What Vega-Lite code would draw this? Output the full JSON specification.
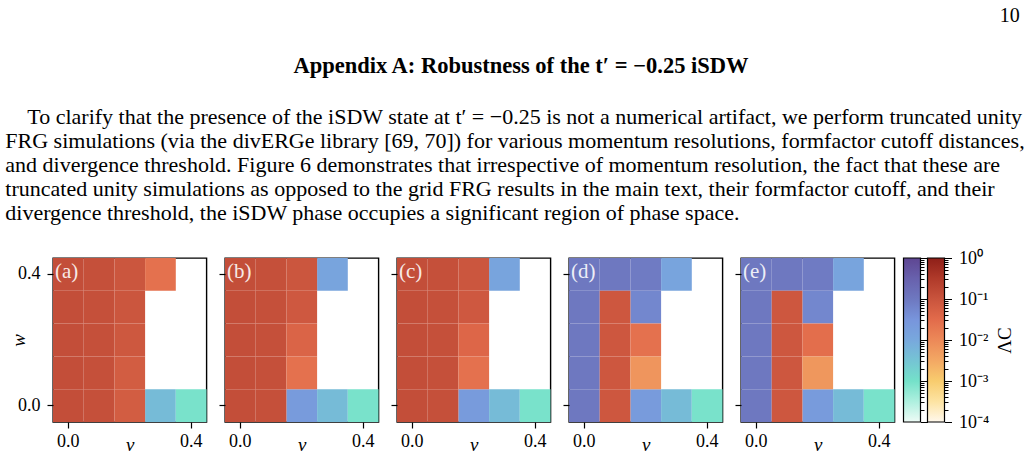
{
  "$schema": "https://vega.github.io/schema/vega-lite/v6.json",
  "background": "white",
  "padding": {"left": 5, "top": 5, "right": 0, "bottom": 0},
  "config": {
    "font": "Liberation Serif",
    "view": {"stroke": "black", "strokeWidth": 1.4},
    "axis": {
      "domain": false, "grid": false,
      "tickColor": "black", "tickWidth": 1.2, "tickSize": 6,
      "labelColor": "black", "labelFont": "Liberation Serif", "labelFontSize": 18, "labelPadding": 7,
      "titleFont": "Liberation Serif", "titleFontSize": 19, "titleFontWeight": "normal", "titleFontStyle": "italic", "titleColor": "black"
    },
    "axisX": {"labelPadding": 4},
    "title": {"font": "Liberation Serif", "color": "black", "fontWeight": "normal", "fontSize": 20},
    "style": {"group-title": {"font": "Liberation Serif", "fontWeight": "normal", "color": "black"}}
  },
  "title": {"text": "10", "anchor": "end", "offset": 29, "dx": -5, "font": "Liberation Serif", "fontSize": 20},
  "datasets": {
    "cells": [
      {"panel": "(a)", "v": 0, "w": 0.4, "phase": "r", "lam": 0.13},
      {"panel": "(a)", "v": 0, "w": 0.3, "phase": "r", "lam": 0.13},
      {"panel": "(a)", "v": 0, "w": 0.2, "phase": "r", "lam": 0.13},
      {"panel": "(a)", "v": 0, "w": 0.1, "phase": "r", "lam": 0.13},
      {"panel": "(a)", "v": 0, "w": 0, "phase": "r", "lam": 0.13},
      {"panel": "(a)", "v": 0.1, "w": 0.4, "phase": "r", "lam": 0.12},
      {"panel": "(a)", "v": 0.1, "w": 0.3, "phase": "r", "lam": 0.12},
      {"panel": "(a)", "v": 0.1, "w": 0.2, "phase": "r", "lam": 0.12},
      {"panel": "(a)", "v": 0.1, "w": 0.1, "phase": "r", "lam": 0.12},
      {"panel": "(a)", "v": 0.1, "w": 0, "phase": "r", "lam": 0.12},
      {"panel": "(a)", "v": 0.2, "w": 0.4, "phase": "r", "lam": 0.09},
      {"panel": "(a)", "v": 0.2, "w": 0.3, "phase": "r", "lam": 0.09},
      {"panel": "(a)", "v": 0.2, "w": 0.2, "phase": "r", "lam": 0.083},
      {"panel": "(a)", "v": 0.2, "w": 0.1, "phase": "r", "lam": 0.065},
      {"panel": "(a)", "v": 0.2, "w": 0, "phase": "r", "lam": 0.065},
      {"panel": "(a)", "v": 0.3, "w": 0.4, "phase": "r", "lam": 0.025},
      {"panel": "(a)", "v": 0.3, "w": 0, "phase": "b", "lam": 0.0045},
      {"panel": "(a)", "v": 0.4, "w": 0, "phase": "b", "lam": 0.0009},

      {"panel": "(b)", "v": 0, "w": 0.4, "phase": "r", "lam": 0.13},
      {"panel": "(b)", "v": 0, "w": 0.3, "phase": "r", "lam": 0.13},
      {"panel": "(b)", "v": 0, "w": 0.2, "phase": "r", "lam": 0.13},
      {"panel": "(b)", "v": 0, "w": 0.1, "phase": "r", "lam": 0.13},
      {"panel": "(b)", "v": 0, "w": 0, "phase": "r", "lam": 0.13},
      {"panel": "(b)", "v": 0.1, "w": 0.4, "phase": "r", "lam": 0.12},
      {"panel": "(b)", "v": 0.1, "w": 0.3, "phase": "r", "lam": 0.12},
      {"panel": "(b)", "v": 0.1, "w": 0.2, "phase": "r", "lam": 0.12},
      {"panel": "(b)", "v": 0.1, "w": 0.1, "phase": "r", "lam": 0.12},
      {"panel": "(b)", "v": 0.1, "w": 0, "phase": "r", "lam": 0.12},
      {"panel": "(b)", "v": 0.2, "w": 0.4, "phase": "r", "lam": 0.09},
      {"panel": "(b)", "v": 0.2, "w": 0.3, "phase": "r", "lam": 0.08},
      {"panel": "(b)", "v": 0.2, "w": 0.2, "phase": "r", "lam": 0.045},
      {"panel": "(b)", "v": 0.2, "w": 0.1, "phase": "r", "lam": 0.025},
      {"panel": "(b)", "v": 0.2, "w": 0, "phase": "b", "lam": 0.022},
      {"panel": "(b)", "v": 0.3, "w": 0.4, "phase": "b", "lam": 0.0125},
      {"panel": "(b)", "v": 0.3, "w": 0, "phase": "b", "lam": 0.0045},
      {"panel": "(b)", "v": 0.4, "w": 0, "phase": "b", "lam": 0.0009},

      {"panel": "(c)", "v": 0, "w": 0.4, "phase": "r", "lam": 0.13},
      {"panel": "(c)", "v": 0, "w": 0.3, "phase": "r", "lam": 0.13},
      {"panel": "(c)", "v": 0, "w": 0.2, "phase": "r", "lam": 0.13},
      {"panel": "(c)", "v": 0, "w": 0.1, "phase": "r", "lam": 0.13},
      {"panel": "(c)", "v": 0, "w": 0, "phase": "r", "lam": 0.13},
      {"panel": "(c)", "v": 0.1, "w": 0.4, "phase": "r", "lam": 0.12},
      {"panel": "(c)", "v": 0.1, "w": 0.3, "phase": "r", "lam": 0.12},
      {"panel": "(c)", "v": 0.1, "w": 0.2, "phase": "r", "lam": 0.12},
      {"panel": "(c)", "v": 0.1, "w": 0.1, "phase": "r", "lam": 0.12},
      {"panel": "(c)", "v": 0.1, "w": 0, "phase": "r", "lam": 0.12},
      {"panel": "(c)", "v": 0.2, "w": 0.4, "phase": "r", "lam": 0.09},
      {"panel": "(c)", "v": 0.2, "w": 0.3, "phase": "r", "lam": 0.08},
      {"panel": "(c)", "v": 0.2, "w": 0.2, "phase": "r", "lam": 0.04},
      {"panel": "(c)", "v": 0.2, "w": 0.1, "phase": "r", "lam": 0.025},
      {"panel": "(c)", "v": 0.2, "w": 0, "phase": "b", "lam": 0.022},
      {"panel": "(c)", "v": 0.3, "w": 0.4, "phase": "b", "lam": 0.013},
      {"panel": "(c)", "v": 0.3, "w": 0, "phase": "b", "lam": 0.0045},
      {"panel": "(c)", "v": 0.4, "w": 0, "phase": "b", "lam": 0.0009},

      {"panel": "(d)", "v": 0, "w": 0.4, "phase": "b", "lam": 0.1},
      {"panel": "(d)", "v": 0, "w": 0.3, "phase": "b", "lam": 0.1},
      {"panel": "(d)", "v": 0, "w": 0.2, "phase": "b", "lam": 0.1},
      {"panel": "(d)", "v": 0, "w": 0.1, "phase": "b", "lam": 0.1},
      {"panel": "(d)", "v": 0, "w": 0, "phase": "b", "lam": 0.1},
      {"panel": "(d)", "v": 0.1, "w": 0.4, "phase": "b", "lam": 0.1},
      {"panel": "(d)", "v": 0.1, "w": 0.3, "phase": "r", "lam": 0.085},
      {"panel": "(d)", "v": 0.1, "w": 0.2, "phase": "r", "lam": 0.085},
      {"panel": "(d)", "v": 0.1, "w": 0.1, "phase": "r", "lam": 0.085},
      {"panel": "(d)", "v": 0.1, "w": 0, "phase": "r", "lam": 0.085},
      {"panel": "(d)", "v": 0.2, "w": 0.4, "phase": "b", "lam": 0.09},
      {"panel": "(d)", "v": 0.2, "w": 0.3, "phase": "b", "lam": 0.056},
      {"panel": "(d)", "v": 0.2, "w": 0.2, "phase": "r", "lam": 0.025},
      {"panel": "(d)", "v": 0.2, "w": 0.1, "phase": "r", "lam": 0.0063},
      {"panel": "(d)", "v": 0.2, "w": 0, "phase": "b", "lam": 0.022},
      {"panel": "(d)", "v": 0.3, "w": 0.4, "phase": "b", "lam": 0.0125},
      {"panel": "(d)", "v": 0.3, "w": 0, "phase": "b", "lam": 0.0045},
      {"panel": "(d)", "v": 0.4, "w": 0, "phase": "b", "lam": 0.0009},

      {"panel": "(e)", "v": 0, "w": 0.4, "phase": "b", "lam": 0.1},
      {"panel": "(e)", "v": 0, "w": 0.3, "phase": "b", "lam": 0.1},
      {"panel": "(e)", "v": 0, "w": 0.2, "phase": "b", "lam": 0.1},
      {"panel": "(e)", "v": 0, "w": 0.1, "phase": "b", "lam": 0.1},
      {"panel": "(e)", "v": 0, "w": 0, "phase": "b", "lam": 0.1},
      {"panel": "(e)", "v": 0.1, "w": 0.4, "phase": "b", "lam": 0.1},
      {"panel": "(e)", "v": 0.1, "w": 0.3, "phase": "r", "lam": 0.085},
      {"panel": "(e)", "v": 0.1, "w": 0.2, "phase": "r", "lam": 0.085},
      {"panel": "(e)", "v": 0.1, "w": 0.1, "phase": "r", "lam": 0.085},
      {"panel": "(e)", "v": 0.1, "w": 0, "phase": "r", "lam": 0.085},
      {"panel": "(e)", "v": 0.2, "w": 0.4, "phase": "b", "lam": 0.09},
      {"panel": "(e)", "v": 0.2, "w": 0.3, "phase": "b", "lam": 0.056},
      {"panel": "(e)", "v": 0.2, "w": 0.2, "phase": "r", "lam": 0.028},
      {"panel": "(e)", "v": 0.2, "w": 0.1, "phase": "r", "lam": 0.006},
      {"panel": "(e)", "v": 0.2, "w": 0, "phase": "b", "lam": 0.022},
      {"panel": "(e)", "v": 0.3, "w": 0.4, "phase": "b", "lam": 0.0125},
      {"panel": "(e)", "v": 0.3, "w": 0, "phase": "b", "lam": 0.0045},
      {"panel": "(e)", "v": 0.4, "w": 0, "phase": "b", "lam": 0.0009}
    ]
  },
  "data": {"name": "cells"},
  "vconcat": [
    {
      "title": {"text": "Appendix A: Robustness of the t′ = −0.25 iSDW", "anchor": "middle", "font": "Liberation Serif", "fontWeight": "bold", "fontSize": 22.5, "offset": 29, "dx": 6},
      "vconcat": [
        {
          "title": {
            "text": [
              "\u200B\u00A0\u00A0\u00A0\u00A0To clarify that the presence of the iSDW state at t′ = −0.25 is not a numerical artifact, we perform truncated unity",
              "FRG simulations (via the divERGe library [69, 70]) for various momentum resolutions, formfactor cutoff distances,",
              "and divergence threshold. Figure 6 demonstrates that irrespective of momentum resolution, the fact that these are",
              "truncated unity simulations as opposed to the grid FRG results in the main text, their formfactor cutoff, and their",
              "divergence threshold, the iSDW phase occupies a significant region of phase space."
            ],
            "anchor": "start", "font": "Liberation Serif", "fontSize": 22, "fontWeight": "normal", "lineHeight": 24, "offset": 24, "dx": -3.5
          },
          "vconcat": [
            {
              "spacing": 6.5,
              "hconcat": [
                {
                  "spacing": 9,
                  "hconcat": [
                    {
                      "width": 153.5, "height": 164,
                      "transform": [{"filter": "datum.panel === '(a)'"}],
                      "layer": [
                        {"transform": [{"filter": "datum.phase === 'b'"}], "mark": {"type": "rect", "opacity": 1},
                         "encoding": {
                           "x": {"field": "v", "type": "ordinal", "scale": {"domain": [0, 0.1, 0.2, 0.3, 0.4], "paddingInner": 0, "paddingOuter": 0}, "axis": {"values": [0, 0.4], "labelExpr": "format(datum.value, '.1f')", "labelAngle": 0, "title": "v", "titlePadding": -15}},
                           "y": {"field": "w", "type": "ordinal", "scale": {"domain": [0.4, 0.3, 0.2, 0.1, 0], "paddingInner": 0, "paddingOuter": 0}, "axis": {"values": [0, 0.4], "labelExpr": "format(datum.value, '.1f')", "title": "w", "titlePadding": -11}},
                           "color": {"field": "lam", "type": "quantitative", "legend": null, "scale": {"type": "log", "interpolate": "rgb", "domain": [0.0001, 0.00031623, 0.001, 0.0031623, 0.01, 0.031623, 0.1, 0.31623, 1], "range": ["#EEFBF6", "#AEF0DF", "#74E1C9", "#75C4D4", "#78A8DD", "#7895DC", "#6E78C0", "#6861AD", "#5E4692"]}}
                         }},
                        {"transform": [{"filter": "datum.phase === 'r'"}], "mark": {"type": "rect", "opacity": 1},
                         "encoding": {
                           "x": {"field": "v", "type": "ordinal"},
                           "y": {"field": "w", "type": "ordinal"},
                           "fill": {"field": "lam", "type": "quantitative", "legend": null, "scale": {"type": "log", "interpolate": "rgb", "domain": [0.0001, 0.00031623, 0.001, 0.0031623, 0.01, 0.031623, 0.1, 0.31623, 1], "range": ["#FFF8EC", "#FDE3A2", "#F8CC6E", "#F3A864", "#EC8958", "#E26B4B", "#C9543D", "#B03A2A", "#8E1F18"]}}
                         }},
                        {"transform": [{"filter": "datum.v === 0 && datum.w === 0.4"}],
                         "mark": {"type": "text", "align": "left", "baseline": "top", "dx": 2, "dy": 3, "color": "white", "opacity": 0.88, "fontSize": 21, "font": "Liberation Serif"},
                         "encoding": {"x": {"field": "v", "type": "ordinal", "bandPosition": 0}, "y": {"field": "w", "type": "ordinal", "bandPosition": 0}, "text": {"field": "panel"}}}
                      ]
                    },
                    {
                      "width": 153.5, "height": 164,
                      "transform": [{"filter": "datum.panel === '(b)'"}],
                      "layer": [
                        {"transform": [{"filter": "datum.phase === 'b'"}], "mark": {"type": "rect", "opacity": 1},
                         "encoding": {
                           "x": {"field": "v", "type": "ordinal", "scale": {"domain": [0, 0.1, 0.2, 0.3, 0.4], "paddingInner": 0, "paddingOuter": 0}, "axis": {"values": [0, 0.4], "labelExpr": "format(datum.value, '.1f')", "labelAngle": 0, "title": "v", "titlePadding": -15}},
                           "y": {"field": "w", "type": "ordinal", "scale": {"domain": [0.4, 0.3, 0.2, 0.1, 0], "paddingInner": 0, "paddingOuter": 0}, "axis": {"values": [0, 0.4], "labels": false, "title": null}},
                           "color": {"field": "lam", "type": "quantitative", "legend": null, "scale": {"type": "log", "interpolate": "rgb", "domain": [0.0001, 0.00031623, 0.001, 0.0031623, 0.01, 0.031623, 0.1, 0.31623, 1], "range": ["#EEFBF6", "#AEF0DF", "#74E1C9", "#75C4D4", "#78A8DD", "#7895DC", "#6E78C0", "#6861AD", "#5E4692"]}}
                         }},
                        {"transform": [{"filter": "datum.phase === 'r'"}], "mark": {"type": "rect", "opacity": 1},
                         "encoding": {
                           "x": {"field": "v", "type": "ordinal"},
                           "y": {"field": "w", "type": "ordinal"},
                           "fill": {"field": "lam", "type": "quantitative", "legend": null, "scale": {"type": "log", "interpolate": "rgb", "domain": [0.0001, 0.00031623, 0.001, 0.0031623, 0.01, 0.031623, 0.1, 0.31623, 1], "range": ["#FFF8EC", "#FDE3A2", "#F8CC6E", "#F3A864", "#EC8958", "#E26B4B", "#C9543D", "#B03A2A", "#8E1F18"]}}
                         }},
                        {"transform": [{"filter": "datum.v === 0 && datum.w === 0.4"}],
                         "mark": {"type": "text", "align": "left", "baseline": "top", "dx": 2, "dy": 3, "color": "white", "opacity": 0.88, "fontSize": 21, "font": "Liberation Serif"},
                         "encoding": {"x": {"field": "v", "type": "ordinal", "bandPosition": 0}, "y": {"field": "w", "type": "ordinal", "bandPosition": 0}, "text": {"field": "panel"}}}
                      ]
                    },
                    {
                      "width": 153.5, "height": 164,
                      "transform": [{"filter": "datum.panel === '(c)'"}],
                      "layer": [
                        {"transform": [{"filter": "datum.phase === 'b'"}], "mark": {"type": "rect", "opacity": 1},
                         "encoding": {
                           "x": {"field": "v", "type": "ordinal", "scale": {"domain": [0, 0.1, 0.2, 0.3, 0.4], "paddingInner": 0, "paddingOuter": 0}, "axis": {"values": [0, 0.4], "labelExpr": "format(datum.value, '.1f')", "labelAngle": 0, "title": "v", "titlePadding": -15}},
                           "y": {"field": "w", "type": "ordinal", "scale": {"domain": [0.4, 0.3, 0.2, 0.1, 0], "paddingInner": 0, "paddingOuter": 0}, "axis": {"values": [0, 0.4], "labels": false, "title": null}},
                           "color": {"field": "lam", "type": "quantitative", "legend": null, "scale": {"type": "log", "interpolate": "rgb", "domain": [0.0001, 0.00031623, 0.001, 0.0031623, 0.01, 0.031623, 0.1, 0.31623, 1], "range": ["#EEFBF6", "#AEF0DF", "#74E1C9", "#75C4D4", "#78A8DD", "#7895DC", "#6E78C0", "#6861AD", "#5E4692"]}}
                         }},
                        {"transform": [{"filter": "datum.phase === 'r'"}], "mark": {"type": "rect", "opacity": 1},
                         "encoding": {
                           "x": {"field": "v", "type": "ordinal"},
                           "y": {"field": "w", "type": "ordinal"},
                           "fill": {"field": "lam", "type": "quantitative", "legend": null, "scale": {"type": "log", "interpolate": "rgb", "domain": [0.0001, 0.00031623, 0.001, 0.0031623, 0.01, 0.031623, 0.1, 0.31623, 1], "range": ["#FFF8EC", "#FDE3A2", "#F8CC6E", "#F3A864", "#EC8958", "#E26B4B", "#C9543D", "#B03A2A", "#8E1F18"]}}
                         }},
                        {"transform": [{"filter": "datum.v === 0 && datum.w === 0.4"}],
                         "mark": {"type": "text", "align": "left", "baseline": "top", "dx": 2, "dy": 3, "color": "white", "opacity": 0.88, "fontSize": 21, "font": "Liberation Serif"},
                         "encoding": {"x": {"field": "v", "type": "ordinal", "bandPosition": 0}, "y": {"field": "w", "type": "ordinal", "bandPosition": 0}, "text": {"field": "panel"}}}
                      ]
                    },
                    {
                      "width": 153.5, "height": 164,
                      "transform": [{"filter": "datum.panel === '(d)'"}],
                      "layer": [
                        {"transform": [{"filter": "datum.phase === 'b'"}], "mark": {"type": "rect", "opacity": 1},
                         "encoding": {
                           "x": {"field": "v", "type": "ordinal", "scale": {"domain": [0, 0.1, 0.2, 0.3, 0.4], "paddingInner": 0, "paddingOuter": 0}, "axis": {"values": [0, 0.4], "labelExpr": "format(datum.value, '.1f')", "labelAngle": 0, "title": "v", "titlePadding": -15}},
                           "y": {"field": "w", "type": "ordinal", "scale": {"domain": [0.4, 0.3, 0.2, 0.1, 0], "paddingInner": 0, "paddingOuter": 0}, "axis": {"values": [0, 0.4], "labels": false, "title": null}},
                           "color": {"field": "lam", "type": "quantitative", "legend": null, "scale": {"type": "log", "interpolate": "rgb", "domain": [0.0001, 0.00031623, 0.001, 0.0031623, 0.01, 0.031623, 0.1, 0.31623, 1], "range": ["#EEFBF6", "#AEF0DF", "#74E1C9", "#75C4D4", "#78A8DD", "#7895DC", "#6E78C0", "#6861AD", "#5E4692"]}}
                         }},
                        {"transform": [{"filter": "datum.phase === 'r'"}], "mark": {"type": "rect", "opacity": 1},
                         "encoding": {
                           "x": {"field": "v", "type": "ordinal"},
                           "y": {"field": "w", "type": "ordinal"},
                           "fill": {"field": "lam", "type": "quantitative", "legend": null, "scale": {"type": "log", "interpolate": "rgb", "domain": [0.0001, 0.00031623, 0.001, 0.0031623, 0.01, 0.031623, 0.1, 0.31623, 1], "range": ["#FFF8EC", "#FDE3A2", "#F8CC6E", "#F3A864", "#EC8958", "#E26B4B", "#C9543D", "#B03A2A", "#8E1F18"]}}
                         }},
                        {"transform": [{"filter": "datum.v === 0 && datum.w === 0.4"}],
                         "mark": {"type": "text", "align": "left", "baseline": "top", "dx": 2, "dy": 3, "color": "white", "opacity": 0.88, "fontSize": 21, "font": "Liberation Serif"},
                         "encoding": {"x": {"field": "v", "type": "ordinal", "bandPosition": 0}, "y": {"field": "w", "type": "ordinal", "bandPosition": 0}, "text": {"field": "panel"}}}
                      ]
                    },
                    {
                      "width": 153.5, "height": 164,
                      "transform": [{"filter": "datum.panel === '(e)'"}],
                      "layer": [
                        {"transform": [{"filter": "datum.phase === 'b'"}], "mark": {"type": "rect", "opacity": 1},
                         "encoding": {
                           "x": {"field": "v", "type": "ordinal", "scale": {"domain": [0, 0.1, 0.2, 0.3, 0.4], "paddingInner": 0, "paddingOuter": 0}, "axis": {"values": [0, 0.4], "labelExpr": "format(datum.value, '.1f')", "labelAngle": 0, "title": "v", "titlePadding": -15}},
                           "y": {"field": "w", "type": "ordinal", "scale": {"domain": [0.4, 0.3, 0.2, 0.1, 0], "paddingInner": 0, "paddingOuter": 0}, "axis": {"values": [0, 0.4], "labels": false, "title": null}},
                           "color": {"field": "lam", "type": "quantitative", "legend": null, "scale": {"type": "log", "interpolate": "rgb", "domain": [0.0001, 0.00031623, 0.001, 0.0031623, 0.01, 0.031623, 0.1, 0.31623, 1], "range": ["#EEFBF6", "#AEF0DF", "#74E1C9", "#75C4D4", "#78A8DD", "#7895DC", "#6E78C0", "#6861AD", "#5E4692"]}}
                         }},
                        {"transform": [{"filter": "datum.phase === 'r'"}], "mark": {"type": "rect", "opacity": 1},
                         "encoding": {
                           "x": {"field": "v", "type": "ordinal"},
                           "y": {"field": "w", "type": "ordinal"},
                           "fill": {"field": "lam", "type": "quantitative", "legend": null, "scale": {"type": "log", "interpolate": "rgb", "domain": [0.0001, 0.00031623, 0.001, 0.0031623, 0.01, 0.031623, 0.1, 0.31623, 1], "range": ["#FFF8EC", "#FDE3A2", "#F8CC6E", "#F3A864", "#EC8958", "#E26B4B", "#C9543D", "#B03A2A", "#8E1F18"]}}
                         }},
                        {"transform": [{"filter": "datum.v === 0 && datum.w === 0.4"}],
                         "mark": {"type": "text", "align": "left", "baseline": "top", "dx": 2, "dy": 3, "color": "white", "opacity": 0.88, "fontSize": 21, "font": "Liberation Serif"},
                         "encoding": {"x": {"field": "v", "type": "ordinal", "bandPosition": 0}, "y": {"field": "w", "type": "ordinal", "bandPosition": 0}, "text": {"field": "panel"}}}
                      ]
                    }
                  ]
                },
                {
                  "width": 41, "height": 164,
                  "view": {"stroke": null},
                  "layer": [
                    {
                      "data": {"values": [{"bar": "L"}]},
                      "mark": {"type": "rect", "stroke": "black", "strokeWidth": 1.2,
                        "fill": {"gradient": "linear", "x1": 0, "y1": 1, "x2": 0, "y2": 0, "stops": [
                          {"offset": 0, "color": "#EEFBF6"}, {"offset": 0.125, "color": "#AEF0DF"}, {"offset": 0.25, "color": "#74E1C9"},
                          {"offset": 0.375, "color": "#75C4D4"}, {"offset": 0.5, "color": "#78A8DD"}, {"offset": 0.625, "color": "#7895DC"},
                          {"offset": 0.75, "color": "#6E78C0"}, {"offset": 0.875, "color": "#6861AD"}, {"offset": 1, "color": "#5E4692"}]}},
                      "encoding": {
                        "x": {"field": "bar", "type": "nominal", "scale": {"domain": ["L", "R"], "paddingInner": 0.2917, "paddingOuter": 0}, "axis": null},
                        "y": {"datum": 0.0001, "type": "quantitative", "scale": {"type": "log", "domain": [0.0001, 1], "nice": false},
                          "axis": {"orient": "right", "offset": -24, "labels": false, "title": null, "domain": false, "tickWidth": 1,
                            "values": [0.0001, 0.0002, 0.0003, 0.0004, 0.0005, 0.0006, 0.0007, 0.0008, 0.0009, 0.001, 0.002, 0.003, 0.004, 0.005, 0.006, 0.007, 0.008, 0.009, 0.01, 0.02, 0.03, 0.04, 0.05, 0.06, 0.07, 0.08, 0.09, 0.1, 0.2, 0.3, 0.4, 0.5, 0.6, 0.7, 0.8, 0.9, 1],
                            "tickSize": {"condition": {"test": "abs(log(datum.value) / LN10 - round(log(datum.value) / LN10)) < 0.001", "value": 7}, "value": 3.5}}},
                        "y2": {"datum": 1}
                      }
                    },
                    {
                      "data": {"values": [{"bar": "R"}]},
                      "mark": {"type": "rect", "stroke": "black", "strokeWidth": 1.2,
                        "fill": {"gradient": "linear", "x1": 0, "y1": 1, "x2": 0, "y2": 0, "stops": [
                          {"offset": 0, "color": "#FFF8EC"}, {"offset": 0.125, "color": "#FDE3A2"}, {"offset": 0.25, "color": "#F8CC6E"},
                          {"offset": 0.375, "color": "#F3A864"}, {"offset": 0.5, "color": "#EC8958"}, {"offset": 0.625, "color": "#E26B4B"},
                          {"offset": 0.75, "color": "#C9543D"}, {"offset": 0.875, "color": "#B03A2A"}, {"offset": 1, "color": "#8E1F18"}]}},
                      "encoding": {
                        "x": {"field": "bar", "type": "nominal"},
                        "y": {"datum": 0.0001, "type": "quantitative",
                          "axis": {"orient": "right", "title": "ΛC", "titleAngle": 270, "titleBaseline": "top", "titleFontStyle": "normal", "titlePadding": 7, "domain": false, "tickWidth": 1,
                            "labelOverlap": false, "labelFlush": false, "labelPadding": 7, "labelFontSize": 18,
                            "values": [0.0001, 0.0002, 0.0003, 0.0004, 0.0005, 0.0006, 0.0007, 0.0008, 0.0009, 0.001, 0.002, 0.003, 0.004, 0.005, 0.006, 0.007, 0.008, 0.009, 0.01, 0.02, 0.03, 0.04, 0.05, 0.06, 0.07, 0.08, 0.09, 0.1, 0.2, 0.3, 0.4, 0.5, 0.6, 0.7, 0.8, 0.9, 1],
                            "labelExpr": "abs(log(datum.value) / LN10 - round(log(datum.value) / LN10)) > 0.001 ? '' : round(log(datum.value) / LN10) == 0 ? '10⁰' : round(log(datum.value) / LN10) == -1 ? '10⁻¹' : round(log(datum.value) / LN10) == -2 ? '10⁻²' : round(log(datum.value) / LN10) == -3 ? '10⁻³' : '10⁻⁴'",
                            "tickSize": {"condition": {"test": "abs(log(datum.value) / LN10 - round(log(datum.value) / LN10)) < 0.001", "value": 7}, "value": 3.5}}},
                        "y2": {"datum": 1}
                      }
                    }
                  ],
                  "resolve": {"axis": {"y": "independent"}}
                }
              ]
            }
          ]
        }
      ]
    }
  ]
}
